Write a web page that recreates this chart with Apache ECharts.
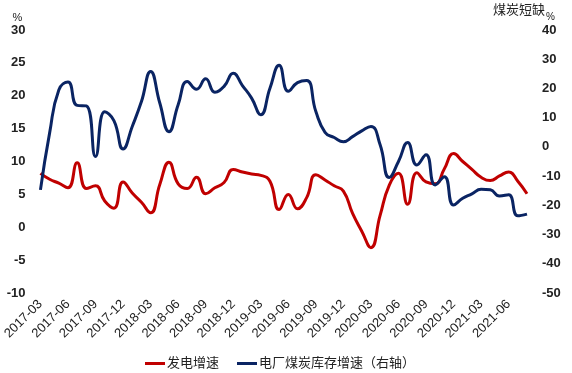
<!DOCTYPE html>
<html>
<head>
<meta charset="utf-8">
<script src="https://cdn.jsdelivr.net/npm/echarts@6/dist/echarts.min.js"></script>
<style>
html,body{margin:0;padding:0;background:#fff;}
#c{width:572px;height:373px;}
</style>
</head>
<body>
<div id="c"></div>
<script>
var categories = [
'2017-03','2017-04','2017-05','2017-06','2017-07','2017-08','2017-09','2017-10','2017-11','2017-12',
'2018-01','2018-02','2018-03','2018-04','2018-05','2018-06','2018-07','2018-08','2018-09','2018-10','2018-11','2018-12',
'2019-01','2019-02','2019-03','2019-04','2019-05','2019-06','2019-07','2019-08','2019-09','2019-10','2019-11','2019-12',
'2020-01','2020-02','2020-03','2020-04','2020-05','2020-06','2020-07','2020-08','2020-09','2020-10','2020-11','2020-12',
'2021-01','2021-02','2021-03','2021-04','2021-05','2021-06','2021-07','2021-08'
];
var powerGrowth = [
8.2,7.3,6.7,6.0,9.8,5.9,6.3,4.0,2.9,6.9,
5.2,3.8,2.2,6.5,9.9,6.6,5.9,7.6,5.1,6.0,6.8,8.8,
8.4,8.1,7.9,7.0,2.7,5.0,2.8,4.5,8.0,7.2,6.3,5.5,
2.1,-0.6,-3.1,1.8,6.4,8.2,3.5,8.3,6.9,6.6,8.9,11.2,
10.0,8.8,7.6,7.1,7.8,8.4,7.0,5.1
];
var coalStockGrowth = [
-14.7,4.8,19.5,22.2,14.2,14.0,-3.3,12.0,9.0,-0.7,
7.0,15.5,25.8,15.0,5.2,14.4,22.4,19.7,23.3,18.7,20.7,25.2,
21.0,16.7,11.0,20.1,27.9,19.0,22.0,22.7,12.1,5.0,3.2,1.8,
3.5,5.5,7.0,0.7,-10.5,-5.0,1.5,-6.2,-2.7,-13.0,-10.2,-19.9,
-17.6,-16.1,-14.5,-14.7,-16.8,-16.4,-23.6,-23.0
];
var seriesNames = ['发电增速', '电厂煤炭库存增速（右轴）'];

var FONT = "'Liberation Sans', 'Noto Sans CJK SC', sans-serif";
var chart = echarts.init(document.getElementById('c'), null, {renderer: 'canvas'});
chart.setOption({
  animation: false,
  textStyle: {fontFamily: FONT},
  grid: {left: 40, right: 45, top: 30, bottom: 80},
  legend: {
    left: 140, top: 352, icon: 'rect', itemWidth: 20, itemHeight: 3, itemGap: 18,
    textStyle: {fontSize: 13, color: '#222', fontFamily: FONT, padding: [0,0,0,-3]},
    data: seriesNames
  },
  xAxis: {
    type: 'category', data: categories, boundaryGap: false,
    axisLine: {show: false, onZero: false}, axisTick: {show: false}, splitLine: {show: false},
    axisLabel: {interval: 2, rotate: 45, fontSize: 13, color: '#222', margin: 9, fontFamily: FONT}
  },
  yAxis: [{
    type: 'value', min: -10, max: 30, interval: 5, position: 'left',
    name: '%', nameLocation: 'end', nameGap: 12,
    nameTextStyle: {fontSize: 11, color: '#222', align: 'center', verticalAlign: 'middle', padding: [0, 46, 0, 0]},
    axisLine: {show: false}, axisTick: {show: false}, splitLine: {show: false},
    axisLabel: {fontSize: 13, color: '#222', margin: 15, fontWeight: 'bold', fontFamily: FONT}
  }, {
    type: 'value', min: -50, max: 40, interval: 10, position: 'right',
    name: '{a|煤炭短缺}{b|%}', nameLocation: 'end', nameGap: 17,
    nameTextStyle: {align: 'center', verticalAlign: 'middle', padding: [0, 6, 0, 0],
      rich: {a: {fontSize: 13, color: '#222', fontFamily: FONT, verticalAlign: 'top', lineHeight: 18},
             b: {fontSize: 10, color: '#222', fontFamily: FONT, verticalAlign: 'bottom', lineHeight: 18, padding: [0, 0, 0, 1]}}},
    axisLine: {show: false}, axisTick: {show: false}, splitLine: {show: false},
    axisLabel: {fontSize: 13, color: '#222', margin: 15, fontWeight: 'bold', fontFamily: FONT}
  }],
  series: [{
    name: seriesNames[0], type: 'line', yAxisIndex: 0, data: powerGrowth, smooth: true,
    showSymbol: false, lineStyle: {color: '#C00000', width: 3}, itemStyle: {color: '#C00000'}
  }, {
    name: seriesNames[1], type: 'line', yAxisIndex: 1, data: coalStockGrowth, smooth: true,
    showSymbol: false, lineStyle: {color: '#0A2463', width: 3}, itemStyle: {color: '#0A2463'}
  }]
});
</script>
</body>
</html>
